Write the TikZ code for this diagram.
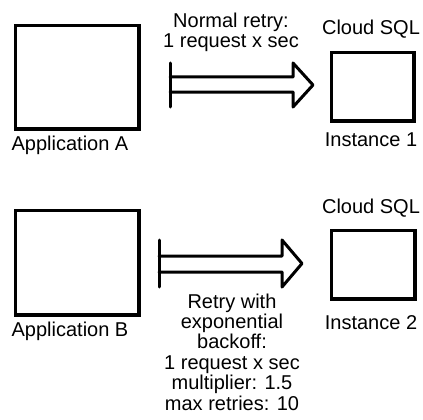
\documentclass[tikz,border=0pt]{standalone}
\usepackage{fontspec}
\setmainfont{Liberation Sans}
\begin{document}
\begin{tikzpicture}[x=1pt,y=-1pt,
  box/.style={draw,line width=3.5pt,inner sep=0pt,anchor=north west},
  lbl/.style={font=\fontsize{20}{20.4}\selectfont,inner sep=0pt,align=center},
  fat/.style={line width=3pt,line cap=round,line join=round}]
\useasboundingbox (0,0) rectangle (423,420);
% boxes (outer edges measured, shifted by half the line width)
\node[box,minimum width=123.5pt,minimum height=103.5pt] (appA) at (13.75,23.75) {};
\node[box,minimum width=82.5pt,minimum height=68.5pt] (inst1) at (329.75,50.75) {};
\node[box,minimum width=123.5pt,minimum height=104.5pt] (appB) at (13.75,208.75) {};
\node[box,minimum width=83.5pt,minimum height=68.5pt] (inst2) at (329.75,228.75) {};
% labels
\node[lbl,anchor=base] (la) at (70,150) {Application A};
\node[lbl,anchor=base] (lb) at (70,336) {Application B};
\node[lbl,anchor=base] (c1) at (371,35) {Cloud SQL};
\node[lbl,anchor=base] (c2) at (371,213) {Cloud SQL};
\node[lbl,anchor=base] (i1) at (371,146) {Instance 1};
\node[lbl,anchor=base] (i2) at (371,329) {Instance 2};
\node[lbl,anchor=north] (t1) at (231,12.4) {Normal retry:\\1 request x sec};
\node[lbl,anchor=north] (t2) at (232,293.4) {Retry with\\exponential\\backoff:\\1 request x sec\\multiplier: 1.5\\max retries: 10};
% arrow 1
\draw[fat] (170,63) -- (170,107);
\draw[fat] (170,77) -- (293,77) -- (293,63) -- (313,85) -- (293,107) -- (293,92) -- (170,92);
% arrow 2
\draw[fat] (159,240) -- (159,287);
\draw[fat] (159,256) -- (282,256) -- (282,240) -- (302,263.5) -- (282,287) -- (282,272) -- (159,272);
\end{tikzpicture}
\end{document}
